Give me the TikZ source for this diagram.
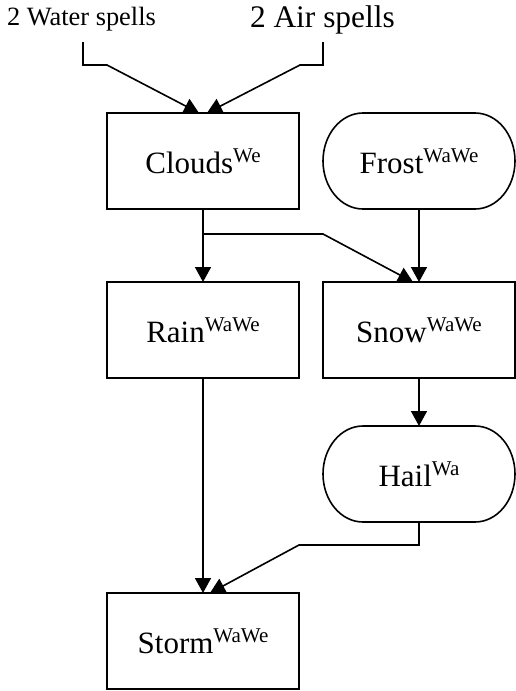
\documentclass[tikz,border=0pt]{standalone}
\usepackage{fontspec}
\setmainfont{Liberation Serif}
\usetikzlibrary{arrows.meta}
\newcommand{\mainsz}{\fontsize{31}{31}\selectfont}
\newcommand{\spx}[1]{\raisebox{10.5pt}{\fontsize{21}{21}\selectfont #1}}
\newcommand{\pillshape}[1]{%
 \draw[line] ([xshift=40pt]#1.north west) -- ([xshift=-40pt]#1.north east)
   .. controls ([xshift=-17.9pt]#1.north east) and ([yshift=26.5pt]#1.east) .. (#1.east)
   .. controls ([yshift=-26.5pt]#1.east) and ([xshift=-17.9pt]#1.south east) .. ([xshift=-40pt]#1.south east)
   -- ([xshift=40pt]#1.south west)
   .. controls ([xshift=17.9pt]#1.south west) and ([yshift=-26.5pt]#1.west) .. (#1.west)
   .. controls ([yshift=26.5pt]#1.west) and ([xshift=17.9pt]#1.north west) .. ([xshift=40pt]#1.north west) -- cycle;}
\tikzset{
  line/.style={line width=1.6pt, black},
  conn/.style={line, -{Triangle[length=15pt,width=16pt]}},
  boxbase/.style={minimum width=192pt, minimum height=96pt, inner sep=0pt, outer sep=0pt,
    text height=24pt, text depth=0pt, font=\mainsz, align=center},
  sqbox/.style={boxbase, draw, line width=1.6pt},
  pill/.style={boxbase, draw=none},
  toplabel/.style={anchor=base west, inner sep=0pt, outer sep=0pt}
}
\begin{document}
\begin{tikzpicture}[x=1pt, y=-1pt]
\useasboundingbox (0,0) rectangle (516,691);
\node[toplabel, font=\fontsize{26.4}{26.4}\selectfont] (water) at (7,25) {2 Water spells};
\node[toplabel, font=\fontsize{31.4}{31.4}\selectfont] (air) at (250,27) {2 Air spells};

\node[sqbox] (clouds) at (203,161) {Clouds\spx{We}};
\node[pill]  (frost)  at (419,161) {Frost\spx{WaWe}};
\node[sqbox] (rain)   at (203,330) {Rain\spx{WaWe}};
\node[sqbox] (snow)   at (419,330) {Snow\spx{WaWe}};
\node[pill]  (hail)   at (419,474) {Hail\spx{Wa}};
\node[sqbox] (storm)  at (203,641) {Storm\spx{WaWe}};
\pillshape{frost}
\pillshape{hail}

\coordinate (w0) at (83,42);
\coordinate (w1) at (83,65);
\coordinate (w2) at (107,65);
\coordinate (a0) at (323,42);
\coordinate (a1) at (323,65);
\coordinate (a2) at (300,65);
\coordinate (c1) at (203,234);
\coordinate (c2) at (323,234);
\coordinate (h1) at (419,545);
\coordinate (h2) at (299,545);

\draw[conn] (w0) -- (w1) -- (w2) -- ([xshift=-4pt]clouds.north);
\draw[conn] (a0) -- (a1) -- (a2) -- ([xshift=4pt]clouds.north);
\draw[conn] (clouds.south) -- (rain.north);
\draw[conn] (c1) -- (c2) -- ([xshift=-6pt]snow.north);
\draw[conn] (frost.south) -- (snow.north);
\draw[conn] (snow.south) -- (hail.north);
\draw[conn] (hail.south) -- (h1) -- (h2) -- ([xshift=7pt]storm.north);
\draw[conn] (rain.south) -- (storm.north);
\end{tikzpicture}
\end{document}
